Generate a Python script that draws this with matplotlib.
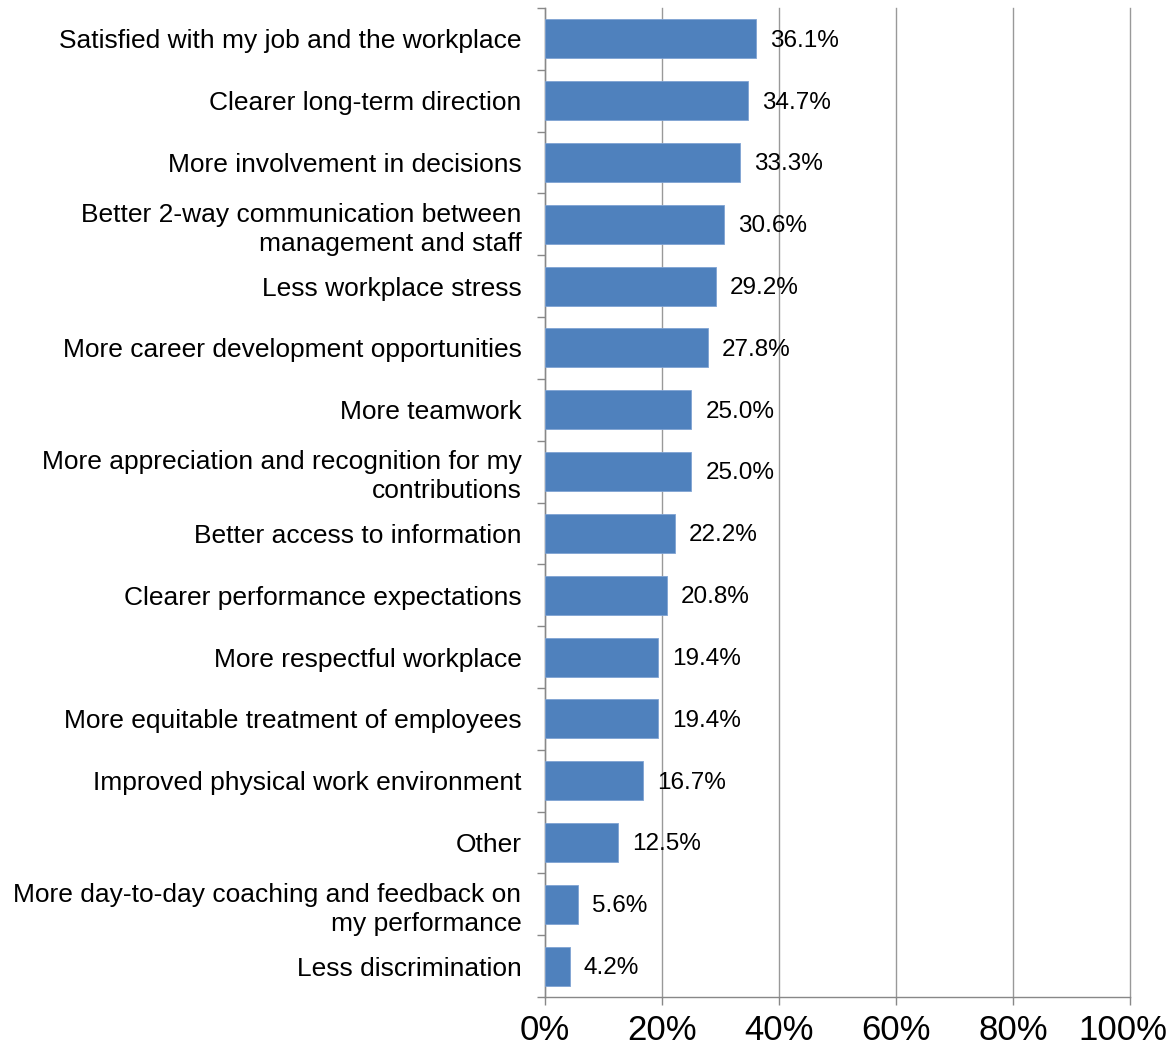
import matplotlib
matplotlib.use("Agg")
import matplotlib.pyplot as plt
import matplotlib.transforms as mtransforms
from matplotlib.ticker import FixedLocator
import numpy as np

categories = [
    "Satisfied with my job and the workplace",
    "Clearer long-term direction",
    "More involvement in decisions",
    "Better 2-way communication between\nmanagement and staff",
    "Less workplace stress",
    "More career development opportunities",
    "More teamwork",
    "More appreciation and recognition for my\ncontributions",
    "Better access to information",
    "Clearer performance expectations",
    "More respectful workplace",
    "More equitable treatment of employees",
    "Improved physical work environment",
    "Other",
    "More day-to-day coaching and feedback on\nmy performance",
    "Less discrimination",
]
values = [36.1, 34.7, 33.3, 30.6, 29.2, 27.8, 25.0, 25.0, 22.2, 20.8, 19.4, 19.4, 16.7, 12.5, 5.6, 4.2]
xticks = [0, 20, 40, 60, 80, 100]
xticklabels = ["0%", "20%", "40%", "60%", "80%", "100%"]

plt.rcParams['font.family'] = ['Liberation Sans', 'DejaVu Sans']

fig = plt.figure(figsize=(11.72, 10.51), dpi=100)
ax = fig.add_axes([545/1172, 1 - 997/1051, (1130-545)/1172, (997-8)/1051])

n = len(categories)
y = np.arange(n)
ax.barh(y, values, height=0.63, color="#4F81BD", edgecolor="#7FA3D3", linewidth=0.6, zorder=3)
ax.set_ylim(n - 0.5, -0.5)
ax.set_xlim(0, 100)

for yi, v in zip(y, values):
    ax.text(v + 2.4, yi + 0.03, f"{v:.1f}%", va="center", ha="left", fontsize=17.5, color="black", zorder=4)

ax.set_xticks(xticks)
ax.set_xticklabels(xticklabels, fontsize=25)
ax.set_yticks(y)
ax.set_yticklabels(categories, fontsize=19, linespacing=1.25)
ax.yaxis.set_minor_locator(FixedLocator(np.arange(-0.5, n, 1.0)))
ax.tick_params(axis='y', which='major', length=0, pad=17)
ax.tick_params(axis='y', which='minor', length=6, color="#888888", width=1)
ax.tick_params(axis='x', length=6, color="#888888", width=1, pad=6)

# nudge the last x tick label left so it stays inside the figure
last = ax.get_xticklabels()[-1]
last.set_transform(last.get_transform() + mtransforms.ScaledTranslation(-7/100, 0, fig.dpi_scale_trans))

ax.grid(axis='x', color="#999999", linewidth=1, zorder=0)
for gl in ax.get_xgridlines():
    gl.set_clip_on(False)
for s in ["top", "right"]:
    ax.spines[s].set_visible(False)
for s in ["left", "bottom"]:
    ax.spines[s].set_color("#888888")
    ax.spines[s].set_linewidth(1)

fig.savefig("out.png", dpi=100)
